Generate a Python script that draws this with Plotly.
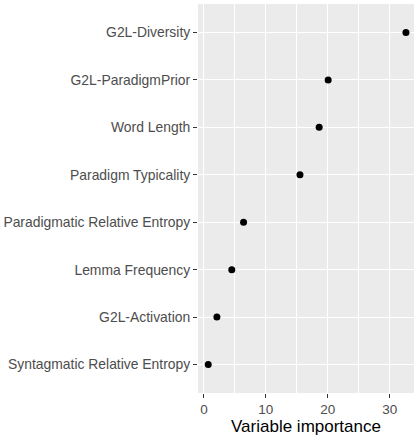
import plotly.graph_objects as go

variables = [
    "G2L-Diversity",
    "G2L-ParadigmPrior",
    "Word Length",
    "Paradigm Typicality",
    "Paradigmatic Relative Entropy",
    "Lemma Frequency",
    "G2L-Activation",
    "Syntagmatic Relative Entropy",
]
importance = [32.6, 20.05, 18.6, 15.5, 6.4, 4.5, 2.1, 0.7]
x_ticks = [0, 10, 20, 30]

fig = go.Figure(
    go.Scatter(
        x=importance,
        y=variables,
        mode="markers",
        marker=dict(color="black", size=7),
        hoverinfo="x+y",
    )
)

fig.update_layout(
    width=420,
    height=436,
    margin=dict(l=198, r=6, t=4, b=43),
    paper_bgcolor="white",
    plot_bgcolor="#EBEBEB",
    font=dict(family="Liberation Sans, Arial, sans-serif", color="#4D4D4D", size=12),
    showlegend=False,
)

fig.update_xaxes(
    range=[-0.95, 33.9],
    tickvals=x_ticks,
    ticks="outside",
    ticklen=4,
    tickcolor="#333333",
    tickfont=dict(size=13.5, color="#4D4D4D"),
    ticklabelstandoff=0,
    showgrid=True,
    gridcolor="white",
    gridwidth=1.1,
    zeroline=False,
    showline=False,
    minor=dict(tickvals=[5, 15, 25], showgrid=True, gridcolor="white", gridwidth=0.5, ticks=""),
    title=dict(text="Variable importance", font=dict(size=17, color="black"), standoff=4),
)

fig.update_yaxes(
    type="category",
    categoryorder="array",
    categoryarray=variables[::-1],
    range=[-0.6, 7.6],
    ticks="outside",
    ticklen=4,
    tickcolor="#333333",
    tickfont=dict(size=13.9, color="#4D4D4D"),
    ticklabelstandoff=0,
    showgrid=True,
    gridcolor="white",
    gridwidth=1.1,
    zeroline=False,
    showline=False,
)

fig.write_html("out.html")
